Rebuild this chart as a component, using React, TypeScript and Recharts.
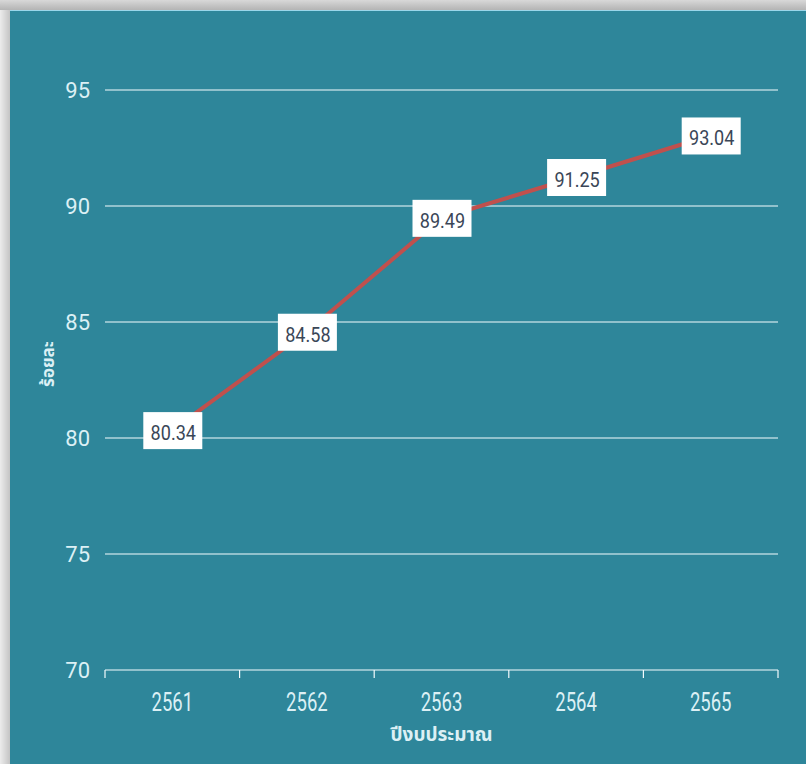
import React from 'react';
import {
  LineChart, Line, XAxis, YAxis, CartesianGrid, LabelList, Label,
} from 'recharts';

// ── Data ───────────────────────────────────────────────────

const YEARS = ['2561', '2562', '2563', '2564', '2565'];
const PERCENTS = [80.34, 84.58, 89.49, 91.25, 93.04];
const Y_TICKS = [70, 75, 80, 85, 90, 95];

const data = YEARS.map((year, i) => ({ year, value: PERCENTS[i] }));

// ── Colors ─────────────────────────────────────────────────

const PANEL = '#2e869a';
const GRID = '#f4fbfd';
const AXIS_TEXT = '#dcf0f5';
const LINE = '#c0504d';
const LABEL_TEXT = '#3a4657';

const X_TICK_SIZE = 8;
const X_TICK_MARGIN = 15;

// value box drawn at each line point
const ValueBox = (props: any) => {
  const { x, y, value } = props;
  if (x == null || y == null) return null;
  return (
    <g>
      <rect x={x - 29} y={y - 18} width={59} height={37} fill="#fff" />
      <text
        transform={`translate(${x + 1}, ${y + 3}) scale(0.86, 1)`}
        textAnchor="middle"
        dominantBaseline="central"
        fontSize={21}
        fontFamily="Roboto, sans-serif"
        fill={LABEL_TEXT}
      >
        {Number(value).toFixed(2)}
      </text>
    </g>
  );
};

// year label + tick marks on the band edges (offset = half band from the scale)
const YearTick = (props: any) => {
  const { x, y, payload, index, visibleTicksCount } = props;
  const half = payload?.offset ?? 0;
  const axisY = y - X_TICK_SIZE - X_TICK_MARGIN;
  const isLast = index === (visibleTicksCount ?? YEARS.length) - 1;
  return (
    <g>
      <line x1={x - half} x2={x - half} y1={axisY} y2={axisY + X_TICK_SIZE} stroke={GRID} strokeWidth={1.2} />
      {isLast && (
        <line x1={x + half} x2={x + half} y1={axisY} y2={axisY + X_TICK_SIZE} stroke={GRID} strokeWidth={1.2} />
      )}
      <text
        transform={`translate(${x}, ${y}) scale(0.74, 1)`}
        dy="0.71em"
        textAnchor="middle"
        fontSize={25}
        fontFamily="Roboto, sans-serif"
        fill={AXIS_TEXT}
      >
        {payload.value}
      </text>
    </g>
  );
};

export default function App() {
  return (
    <div
      style={{
        position: 'fixed',
        left: 0,
        top: 0,
        width: 806,
        height: 764,
        background: 'linear-gradient(to right, #ececec, #c4c4c4 10px)',
        overflow: 'hidden',
      }}
    >
      <div style={{ position: 'absolute', left: 0, top: 0, width: 806, height: 10, background: 'linear-gradient(to bottom, #d8d8d8, #b4b4b4)' }} />
      <div
        style={{
          position: 'absolute',
          left: 10,
          top: 10,
          width: 796,
          height: 754,
          background: PANEL,
          borderTop: '1px solid #9ad6ea',
          boxSizing: 'border-box',
        }}
      >
        <LineChart
          width={796}
          height={753}
          data={data}
          margin={{ top: 79, right: 28, left: 0, bottom: 0 }}
        >
          <CartesianGrid horizontal vertical={false} stroke={GRID} strokeWidth={1.2} />
          <XAxis
            dataKey="year"
            scale="band"
            height={94}
            axisLine={false}
            tickLine={false}
            tickSize={X_TICK_SIZE}
            tickMargin={X_TICK_MARGIN}
            interval={0}
            tick={<YearTick />}
          >
            <Label
              value="ปีงบประมาณ"
              position="insideTop"
              offset={58}
              style={{ fill: AXIS_TEXT, fontSize: 19, fontWeight: 700, fontFamily: "'Noto Sans Thai', 'Noto Sans', sans-serif" }}
            />
          </XAxis>
          <YAxis
            domain={[70, 95]}
            ticks={Y_TICKS}
            width={95}
            axisLine={false}
            tickLine={false}
            tickMargin={9}
            tick={{ fill: AXIS_TEXT, fontSize: 22, fontFamily: 'Roboto, sans-serif' }}
          >
            <Label
              value="ร้อยละ"
              angle={-90}
              position="insideLeft"
              offset={38}
              dy={-16}
              style={{ textAnchor: 'middle', fill: AXIS_TEXT, fontSize: 17, fontWeight: 700, fontFamily: "'Noto Sans Thai', 'Noto Sans', sans-serif" }}
            />
          </YAxis>
          <Line
            dataKey="value"
            stroke={LINE}
            strokeWidth={4}
            dot={false}
            isAnimationActive={false}
          >
            <LabelList dataKey="value" content={<ValueBox />} />
          </Line>
        </LineChart>
      </div>
    </div>
  );
}
